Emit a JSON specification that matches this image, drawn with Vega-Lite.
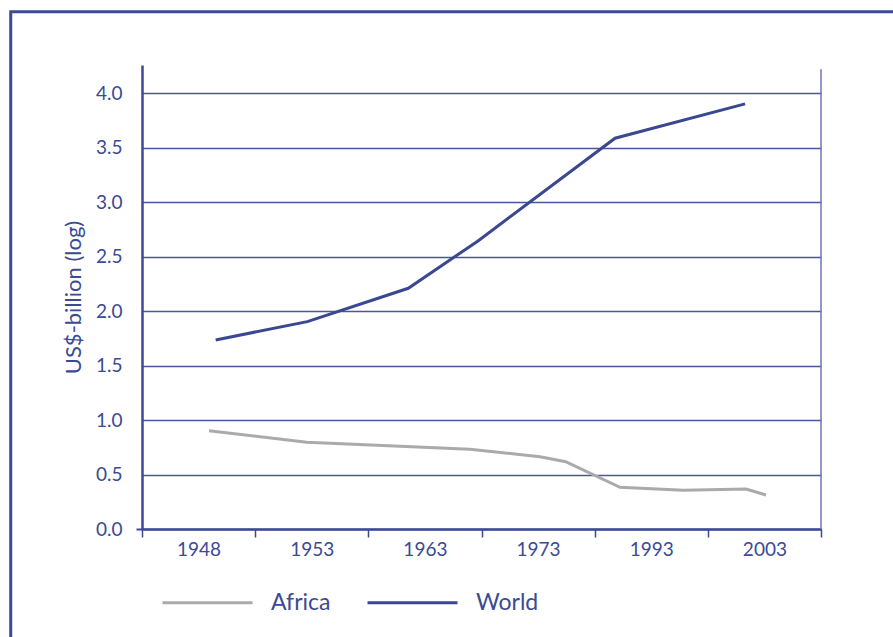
{
  "$schema": "https://vega.github.io/schema/vega-lite/v6.json",
  "width": 679,
  "height": 464,
  "autosize": {"type": "none"},
  "padding": {"left": 142, "top": 65, "right": 72, "bottom": 108},
  "background": "white",
  "config": {
    "view": {"stroke": null},
    "font": "Lato",
    "axis": {"labelFont": "Lato", "titleFont": "Lato"}
  },
  "datasets": {
    "series": [
      {"series": "World", "pos": 0.651, "value": 1.736},
      {"series": "World", "pos": 1.461, "value": 1.904},
      {"series": "World", "pos": 2.353, "value": 2.21},
      {"series": "World", "pos": 2.969, "value": 2.645},
      {"series": "World", "pos": 4.18, "value": 3.588},
      {"series": "World", "pos": 5.329, "value": 3.903},
      {"series": "Africa", "pos": 0.592, "value": 0.903},
      {"series": "Africa", "pos": 1.455, "value": 0.796},
      {"series": "Africa", "pos": 2.898, "value": 0.732},
      {"series": "Africa", "pos": 3.517, "value": 0.664},
      {"series": "Africa", "pos": 3.744, "value": 0.618},
      {"series": "Africa", "pos": 4.224, "value": 0.383},
      {"series": "Africa", "pos": 4.783, "value": 0.355},
      {"series": "Africa", "pos": 5.337, "value": 0.367},
      {"series": "Africa", "pos": 5.514, "value": 0.312}
    ]
  },
  "layer": [
    {
      "data": {"values": [{}]},
      "mark": {"type": "rect", "fill": null, "stroke": "#3b4a94", "strokeWidth": 3, "clip": false},
      "encoding": {
        "x": {"datum": -1.16, "type": "quantitative"},
        "x2": {"datum": 7.5},
        "y": {"datum": -1.5, "type": "quantitative"},
        "y2": {"datum": 4.75}
      }
    },
    {
      "data": {"values": [{}]},
      "mark": {"type": "rule", "color": "#6c76b0", "strokeWidth": 1.5},
      "encoding": {
        "x": {"datum": 6, "type": "quantitative"},
        "y": {"datum": 0, "type": "quantitative"},
        "y2": {"datum": 4.22}
      }
    },
    {
      "data": {"name": "series"},
      "mark": {"type": "line", "strokeWidth": 3},
      "encoding": {
        "x": {
          "field": "pos",
          "type": "quantitative",
          "scale": {"domain": [0, 6], "nice": false, "zero": false},
          "axis": {
            "title": null,
            "values": [0, 0.5, 1, 1.5, 2, 2.5, 3, 3.5, 4, 4.5, 5, 5.5, 6],
            "labelExpr": "datum.value % 1 === 0 ? '' : ['1948','1953','1963','1973','1993','2003'][floor(datum.value)]",
            "labelOverlap": false,
            "labelFlush": false,
            "labelFontSize": 19,
            "labelColor": "#3b4a94",
            "labelPadding": 3,
            "domainColor": "#3b4a94",
            "domainWidth": 2.5,
            "tickColor": "#3b4a94",
            "tickWidth": 1.5,
            "tickSize": 8,
            "tickOpacity": {"condition": {"test": "datum.value % 1 !== 0", "value": 0}, "value": 1},
            "grid": false
          }
        },
        "y": {
          "field": "value",
          "type": "quantitative",
          "scale": {"domain": [0, 4.26], "nice": false, "zero": false},
          "axis": {
            "title": "US$-billion (log)",
            "titleFontSize": 22,
            "titleFontWeight": "normal",
            "titleColor": "#3b4a94",
            "titlePadding": 10,
            "values": [0, 0.5, 1, 1.5, 2, 2.5, 3, 3.5, 4],
            "format": ".1f",
            "labelFontSize": 19,
            "labelColor": "#3b4a94",
            "labelPadding": 14,
            "domainColor": "#3b4a94",
            "domainWidth": 2.5,
            "tickColor": "#3b4a94",
            "tickWidth": 2,
            "tickSize": 6,
            "tickOpacity": {"condition": {"test": "datum.value === 0", "value": 1}, "value": 0},
            "grid": true,
            "gridColor": "#4a5699",
            "gridWidth": 1.3
          }
        },
        "color": {
          "field": "series",
          "type": "nominal",
          "scale": {"domain": ["Africa", "World"], "range": ["#aaaaaa", "#3a4791"]},
          "legend": {
            "title": null,
            "orient": "none",
            "direction": "horizontal",
            "legendX": 19,
            "legendY": 491,
            "symbolType": "stroke",
            "symbolSize": 8100,
            "symbolStrokeWidth": 3,
            "labelFontSize": 23,
            "labelColor": "#3b4a94",
            "labelOffset": 17,
            "columnPadding": 30
          }
        }
      }
    }
  ]
}
